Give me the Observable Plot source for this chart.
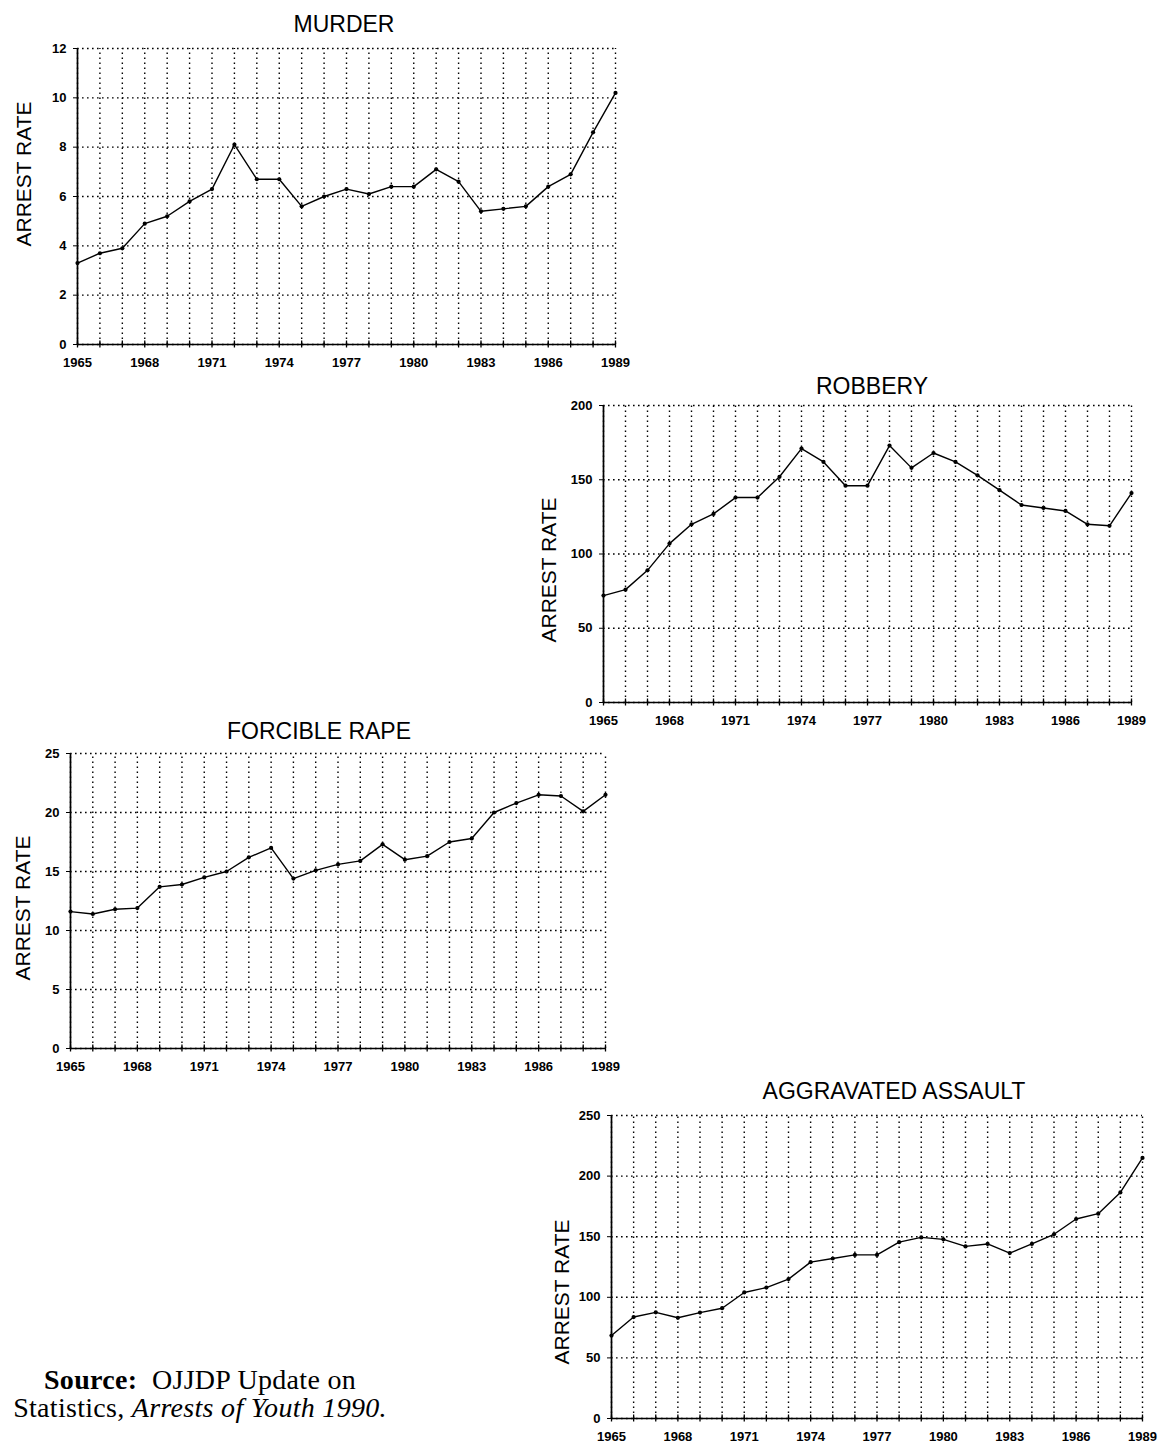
<!DOCTYPE html>
<html>
<head>
<meta charset="utf-8">
<script src="https://cdn.jsdelivr.net/npm/d3@7"></script>
<script src="https://cdn.jsdelivr.net/npm/@observablehq/plot@0.6"></script>
<style>
  html, body { margin: 0; padding: 0; background: #fff; }
  #page { position: relative; width: 1159px; height: 1443px; overflow: hidden; background: #fff; }
  .title { position: absolute; font-family: "Liberation Sans", Arial, sans-serif; font-size: 23px; color: #000; transform: translate(-50%, 0); white-space: nowrap; line-height: 1; }
  .ylab { position: absolute; font-family: "Liberation Sans", Arial, sans-serif; font-size: 21px; color: #000; transform: translate(-50%, -50%) rotate(-90deg); white-space: nowrap; line-height: 1; }
  .panel { position: absolute; }
  #source { position: absolute; left: 0; top: 1366px; width: 400px; text-align: center; font-family: "Liberation Serif", "Times New Roman", serif; font-size: 28px; letter-spacing: 0.3px; line-height: 28px; color: #000; }
</style>
</head>
<body>
<div id="page"></div>
<script>
// ---- data ----
const years = [1965,1966,1967,1968,1969,1970,1971,1972,1973,1974,1975,1976,1977,1978,1979,1980,1981,1982,1983,1984,1985,1986,1987,1988,1989];
const labeledYears = [1965,1968,1971,1974,1977,1980,1983,1986,1989];

const murderRates  = [3.3,3.7,3.9,4.9,5.2,5.8,6.3,8.1,6.7,6.7,5.6,6.0,6.3,6.1,6.4,6.4,7.1,6.6,5.4,5.5,5.6,6.4,6.9,8.6,10.2];
const robberyRates = [72,76,89,107,120,127,138,138,152,171,162,146,146,173,158,168,162,153,143,133,131,129,120,119,141];
const rapeRates    = [11.6,11.4,11.8,11.9,13.7,13.9,14.5,15.0,16.2,17.0,14.4,15.1,15.6,15.9,17.3,16.0,16.3,17.5,17.8,20.0,20.8,21.5,21.4,20.1,21.5];
const assaultRates = [68.5,83.7,87.6,83.1,87.4,91,104,108,115,129,132,135,135,145.5,149.4,147.8,142,144,136.5,144,152,164.6,169,186.5,215];

const murderTicks  = [0,2,4,6,8,10,12];
const robberyTicks = [0,50,100,150,200];
const rapeTicks    = [0,5,10,15,20,25];
const assaultTicks = [0,50,100,150,200,250];

const panelTitles = ["MURDER", "ROBBERY", "FORCIBLE RAPE", "AGGRAVATED ASSAULT"];
const yAxisLabel = "ARREST RATE";

// ---- layout (page pixels) ----
const panels = [
  {title: panelTitles[0], values: murderRates,  ticks: murderTicks,  x0: 77,  x1: 615,  y0: 48,   y1: 344,  tx: 344, ty: 13,   lx: 23,  ly: 174},
  {title: panelTitles[1], values: robberyRates, ticks: robberyTicks, x0: 603, x1: 1131, y0: 405,  y1: 702,  tx: 872, ty: 375,  lx: 548, ly: 570},
  {title: panelTitles[2], values: rapeRates,    ticks: rapeTicks,    x0: 70,  x1: 605,  y0: 753,  y1: 1048, tx: 319, ty: 720,  lx: 22,  ly: 908},
  {title: panelTitles[3], values: assaultRates, ticks: assaultTicks, x0: 611, x1: 1142, y0: 1115, y1: 1418, tx: 894, ty: 1080, lx: 561, ly: 1292}
];

const page = document.getElementById("page");
const dash = "1.6,3.4";

for (const p of panels) {
  const data = years.map((yr, i) => ({year: yr, rate: p.values[i]}));
  const ymax = p.ticks[p.ticks.length - 1];
  const mL = 60, mR = 22, mT = 12, mB = 32;
  const w = (p.x1 - p.x0) + mL + mR;
  const h = (p.y1 - p.y0) + mT + mB;
  const tickLen = ymax * 3.5 / (p.y1 - p.y0);

  const chart = Plot.plot({
    width: w,
    height: h,
    marginLeft: mL, marginRight: mR, marginTop: mT, marginBottom: mB,
    style: {fontFamily: "'Liberation Sans', Arial, sans-serif", fontSize: "13px", fontWeight: "bold", color: "#000", background: "transparent", overflow: "visible"},
    x: {domain: [1965, 1989], label: null},
    y: {domain: [0, ymax], label: null},
    marks: [
      Plot.ruleX(years, {x: d => d, y1: 0, y2: ymax, stroke: "#000", strokeWidth: 1.4, strokeDasharray: dash}),
      Plot.ruleY(p.ticks, {y: d => d, x1: 1965, x2: 1989, stroke: "#000", strokeWidth: 1.4, strokeDasharray: dash}),
      Plot.ruleX([1965], {stroke: "#000", strokeWidth: 1.7}),
      Plot.ruleY([0], {stroke: "#000", strokeWidth: 1.7}),
      Plot.ruleX(years, {x: d => d, y1: -tickLen, y2: tickLen, stroke: "#000", strokeWidth: 1.3}),
      Plot.axisY({ticks: p.ticks, tickSize: 4, tickPadding: 7, tickFormat: d => String(d), label: null}),
      Plot.axisX({ticks: labeledYears, tickSize: 0, tickPadding: 13, tickFormat: d => String(d), label: null}),
      Plot.line(data, {x: "year", y: "rate", stroke: "#000", strokeWidth: 1.4}),
      Plot.dot(data, {x: "year", y: "rate", r: 2.1, fill: "#000", stroke: "none"})
    ]
  });
  chart.classList.add("panel");
  chart.style.left = (p.x0 - mL) + "px";
  chart.style.top = (p.y0 - mT) + "px";
  page.appendChild(chart);

  const t = document.createElement("div");
  t.className = "title";
  t.textContent = p.title;
  t.style.left = p.tx + "px";
  t.style.top = p.ty + "px";
  page.appendChild(t);

  const l = document.createElement("div");
  l.className = "ylab";
  l.textContent = yAxisLabel;
  l.style.left = p.lx + "px";
  l.style.top = p.ly + "px";
  page.appendChild(l);
}

const src = document.createElement("div");
src.id = "source";
src.innerHTML = "<b>Source:</b>&nbsp; OJJDP Update on<br>Statistics, <i>Arrests of Youth 1990.</i>";
page.appendChild(src);
</script>
</body>
</html>
